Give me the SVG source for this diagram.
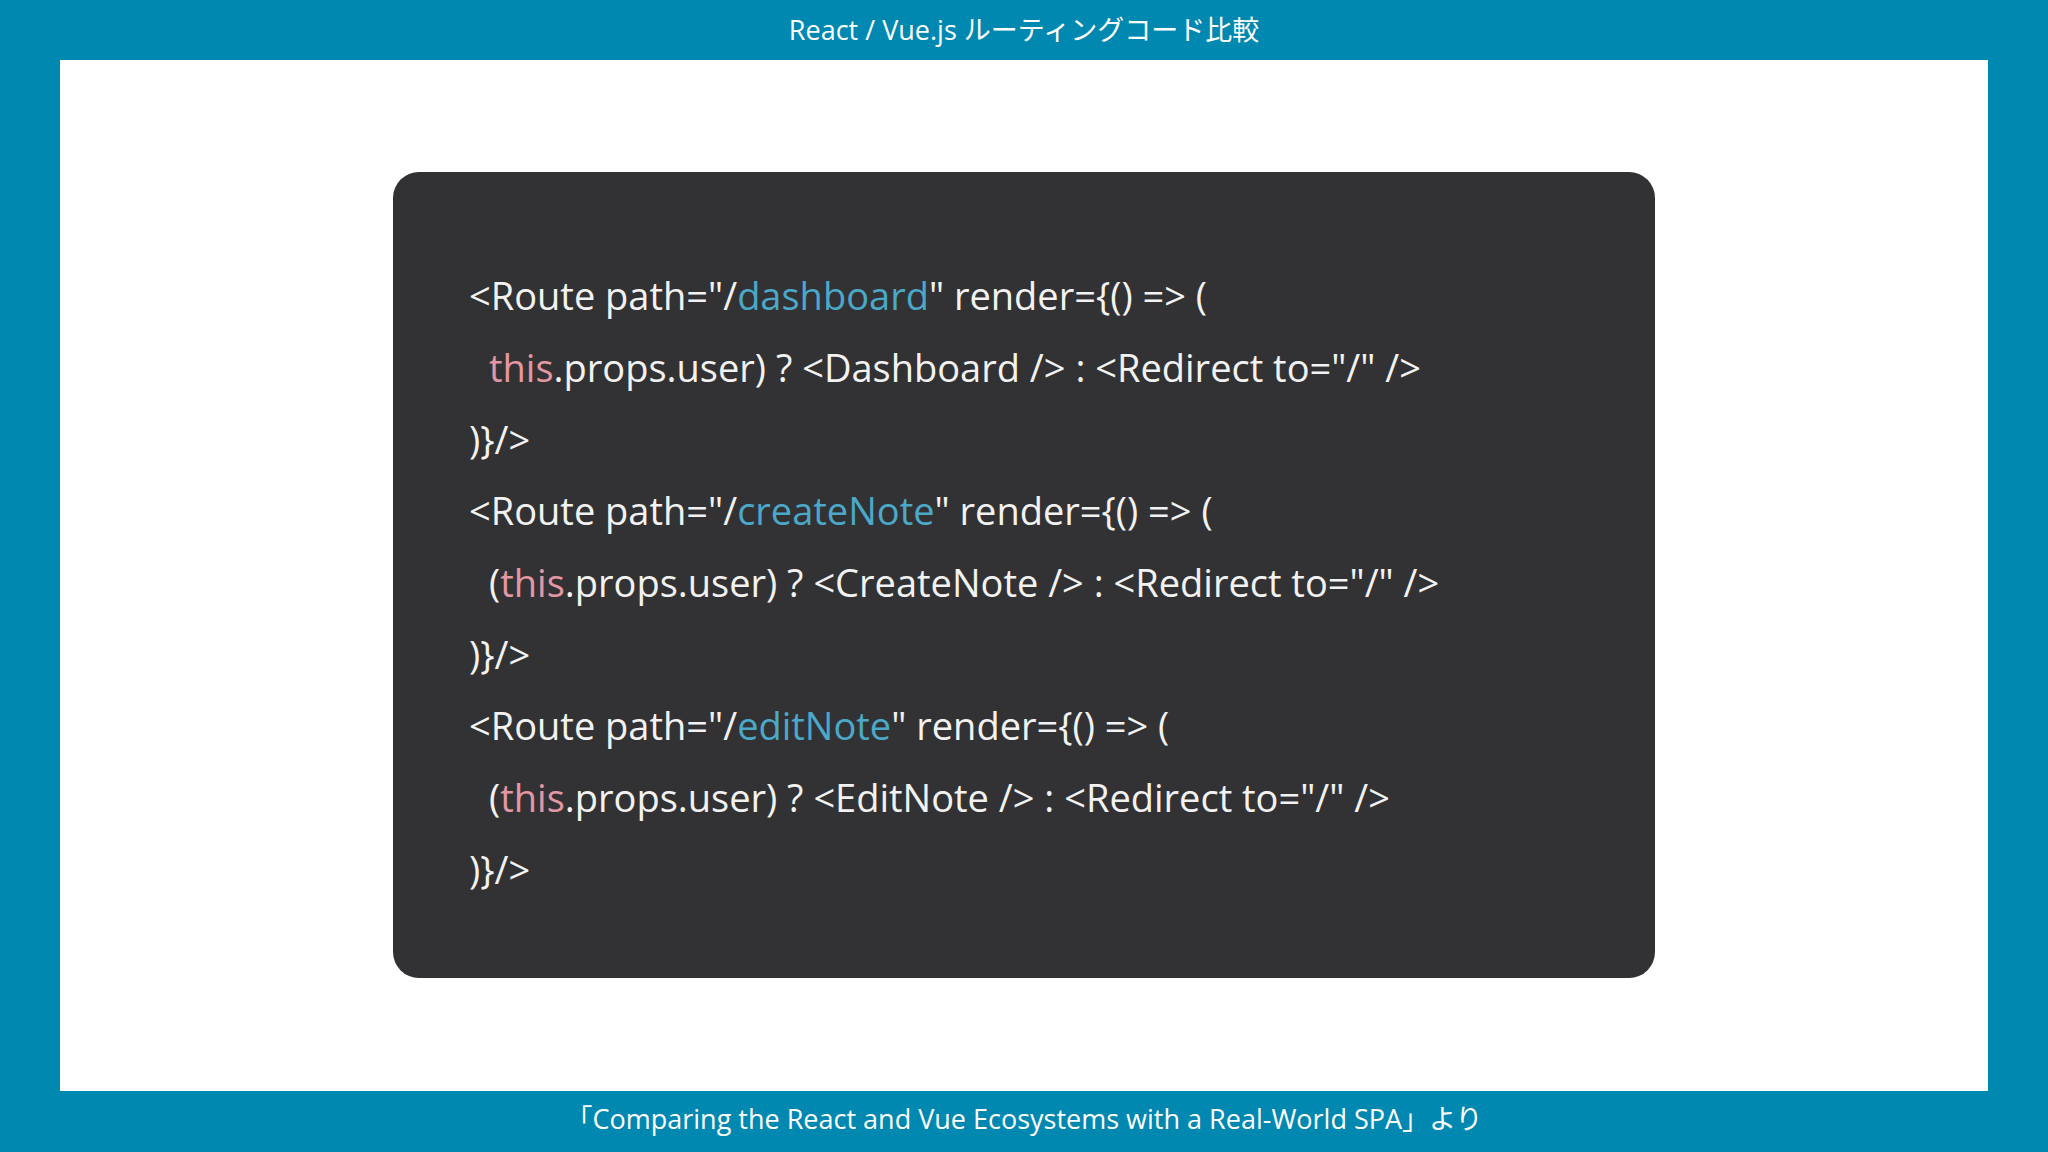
<svg xmlns="http://www.w3.org/2000/svg" width="2048" height="1152" viewBox="0 0 2048 1152">
<style>
.code{font-family:"Open Sans","Noto Sans",sans-serif;font-size:38px;fill:#f2f2f2}
.k{fill:#4ba8c8}.t{fill:#e397a4}
.hdr{font-family:"Open Sans","Noto Sans CJK JP",sans-serif;font-size:27px;fill:#ffffff;text-anchor:middle}
</style>
<rect width="2048" height="1152" fill="#0088b0"/>
<rect x="60" y="60" width="1928" height="1031" fill="#ffffff"/>
<text class="hdr" x="1024" y="40">React / Vue.js ルーティングコード比較</text>
<text class="hdr" x="1024" y="1129">「Comparing the React and Vue Ecosystems with a Real-World SPA」より</text>
<g id="codebox">
<rect x="393" y="172" width="1262" height="806" rx="26" fill="#323234"/>
<g class="code" xml:space="preserve">
<text x="469" y="310">&lt;Route path="/<tspan class="k">dashboard</tspan>" render={() =&gt; (</text>
<text x="489" y="382"><tspan class="t">this</tspan>.props.user) ? &lt;Dashboard /&gt; : &lt;Redirect to="/" /&gt;</text>
<text x="469" y="454">)}/&gt;</text>
<text x="469" y="525">&lt;Route path="/<tspan class="k">createNote</tspan>" render={() =&gt; (</text>
<text x="489" y="597">(<tspan class="t">this</tspan>.props.user) ? &lt;CreateNote /&gt; : &lt;Redirect to="/" /&gt;</text>
<text x="469" y="669">)}/&gt;</text>
<text x="469" y="740">&lt;Route path="/<tspan class="k">editNote</tspan>" render={() =&gt; (</text>
<text x="489" y="812">(<tspan class="t">this</tspan>.props.user) ? &lt;EditNote /&gt; : &lt;Redirect to="/" /&gt;</text>
<text x="469" y="884">)}/&gt;</text>
</g>
</g>
<g id="connectors"/>
</svg>
